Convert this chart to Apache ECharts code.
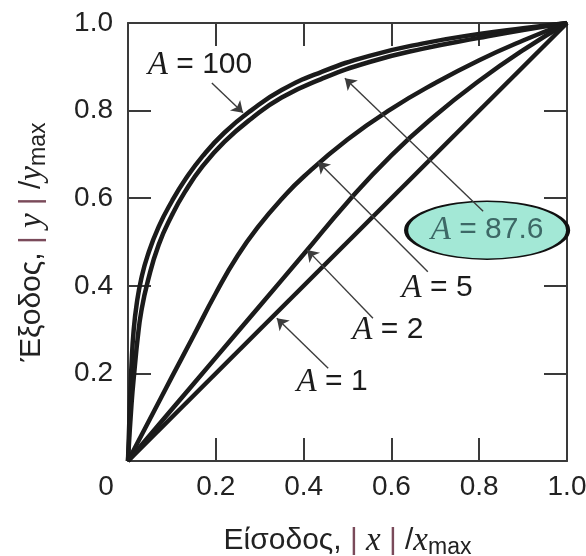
<!DOCTYPE html>
<html>
<head>
<meta charset="utf-8">
<script src="https://cdn.jsdelivr.net/npm/echarts@6/dist/echarts.min.js"></script>
<style>
  html, body { margin: 0; padding: 0; background: #fff; }
  #chart { width: 586px; height: 556px; }
</style>
</head>
<body>
<div id="chart"></div>
<script>
// values: x = |x|/xmax, y = |y|/ymax
const a100X = [0, 0.004, 0.008, 0.013, 0.02, 0.03, 0.045, 0.07, 0.1, 0.13, 0.17, 0.22, 0.28, 0.35, 0.44, 0.55, 0.67, 0.8, 0.9, 1];
const a100Y = [0, 0.12, 0.22, 0.3, 0.36, 0.415, 0.47, 0.535, 0.593, 0.642, 0.696, 0.75, 0.8, 0.847, 0.888, 0.925, 0.953, 0.975, 0.988, 1];

const a876X = [0, 0.008, 0.015, 0.022, 0.03, 0.045, 0.07, 0.1, 0.13, 0.17, 0.22, 0.28, 0.35, 0.44, 0.55, 0.67, 0.8, 0.9, 1];
const a876Y = [0, 0.13, 0.21, 0.28, 0.34, 0.41, 0.494, 0.561, 0.615, 0.673, 0.729, 0.781, 0.83, 0.872, 0.911, 0.941, 0.966, 0.984, 1];

const a5X = [0, 0.05, 0.1, 0.15, 0.2, 0.25, 0.3, 0.35, 0.4, 0.5, 0.6, 0.7, 0.8, 0.9, 1];
const a5Y = [0, 0.096, 0.192, 0.287, 0.383, 0.469, 0.539, 0.598, 0.649, 0.734, 0.804, 0.863, 0.915, 0.96, 1];

const a2X = [0, 0.1, 0.2, 0.3, 0.4, 0.5, 0.6, 0.7, 0.8, 0.9, 1];
const a2Y = [0, 0.118, 0.236, 0.354, 0.472, 0.591, 0.698, 0.789, 0.868, 0.938, 1];

const a1X = [0, 1];
const a1Y = [0, 1];

const pairs = (xs, ys) => xs.map((x, i) => [x, ys[i]]);

const sans = "Liberation Sans", serif = "Liberation Serif";
const ink = "#1b1b1b", frame = "#3a3a3a";

const curve = (name, data) => ({
  name,
  type: "line",
  data,
  showSymbol: false,
  smooth: 0.5,
  lineStyle: { color: ink, width: 4.5 },
  z: 3
});

// A = ... labels
const lblRich = {
  a: { fontFamily: serif, fontStyle: "italic", fontSize: 33, color: ink },
  e: { fontFamily: sans, fontSize: 30, color: ink }
};
const lbl = (num, coord) => ({
  coord,
  symbol: "rect",
  symbolSize: [10, 10],
  itemStyle: { color: "rgba(0,0,0,0)" },
  label: { show: true, position: "inside", formatter: `{a|A}{e| = ${num}}`, rich: lblRich }
});

const arrow = (from, to, color, width) => [
  { coord: from, lineStyle: { color: color || "#3c3c3c", width: width || 1.4, type: "solid" } },
  { coord: to }
];

const axisBase = {
  type: "value",
  min: 0,
  max: 1,
  interval: 0.2,
  axisLine: { show: true, onZero: false, lineStyle: { color: frame, width: 2 } },
  axisTick: { show: true, inside: true, length: 23, lineStyle: { color: frame, width: 2 } },
  splitLine: { show: false }
};

const nameRich = {
  t: { fontFamily: sans, fontSize: 30, color: "#222", lineHeight: 36 },
  b: { fontFamily: sans, fontSize: 30, color: "#7a4a5a", lineHeight: 36 },
  i: { fontFamily: serif, fontStyle: "italic", fontSize: 33, color: "#222", lineHeight: 36 },
  s: { fontFamily: sans, fontSize: 23, color: "#222", lineHeight: 36, verticalAlign: "bottom" }
};

const option = {
  backgroundColor: "#fff",
  animation: false,
  grid: { left: 128, top: 23, width: 439, height: 438, outerBoundsMode: "none", containLabel: false },
  xAxis: [
    Object.assign({}, axisBase, {
      position: "bottom",
      name: "{t|Είσοδος, }{b||}{i| x }{b||}{t| /}{i|x}{s|max}",
      nameLocation: "middle",
      nameGap: 62,
      nameTextStyle: { rich: nameRich },
      axisLabel: {
        show: true,
        margin: 12,
        fontFamily: sans,
        fontSize: 28,
        color: "#222",
        showMinLabel: true,
        showMaxLabel: true,
        formatter: (v) => (v === 0 ? "{z|0}" : v.toFixed(1)),
        rich: { z: { fontFamily: sans, fontSize: 28, color: "#222", padding: [0, 44, 0, 0] } }
      }
    }),
    Object.assign({}, axisBase, { position: "top", axisLabel: { show: false } })
  ],
  yAxis: [
    Object.assign({}, axisBase, {
      position: "left",
      name: "{t|Έξοδος, }{b||}{i| y }{b||}{t| /}{i|y}{s|max}",
      nameLocation: "middle",
      nameGap: 78,
      nameTextStyle: { rich: nameRich },
      axisLabel: {
        show: true,
        margin: 15,
        fontFamily: sans,
        fontSize: 28,
        color: "#222",
        formatter: (v) => (v === 0 ? "" : v.toFixed(1))
      }
    }),
    Object.assign({}, axisBase, { position: "right", axisLabel: { show: false } })
  ],
  series: [
    curve("A = 100", pairs(a100X, a100Y)),
    curve("A = 87.6", pairs(a876X, a876Y)),
    curve("A = 5", pairs(a5X, a5Y)),
    curve("A = 2", pairs(a2X, a2Y)),
    Object.assign(curve("A = 1", pairs(a1X, a1Y)), {
      markLine: {
        silent: true,
        symbol: ["none", "arrow"],
        symbolSize: 11,
        label: { show: false },
        z: 6,
        data: [
          arrow([0.191, 0.863], [0.262, 0.795]),
          arrow([0.809, 0.57], [0.494, 0.874]),
          arrow([0.683, 0.432], [0.433, 0.683]),
          arrow([0.558, 0.326], [0.408, 0.482]),
          arrow([0.456, 0.212], [0.339, 0.326]),
          arrow([1.05, 0.36], [0.932, 0.466], "#159a77", 2)
        ]
      },
      markPoint: {
        silent: true,
        z: 5,
        data: [
          lbl("100", [0.164, 0.904]),
          {
            coord: [0.818, 0.527],
            symbol: "circle",
            symbolSize: [162, 58],
            itemStyle: { color: "#a3e8d6", borderColor: "#111", borderWidth: 2.5 },
            label: {
              show: true,
              position: "inside",
              formatter: "{a|A}{e| = 87.6}",
              rich: {
                a: { fontFamily: serif, fontStyle: "italic", fontSize: 33, color: "#3d6866" },
                e: { fontFamily: sans, fontSize: 30, color: "#3d6866" }
              }
            }
          },
          lbl("5", [0.704, 0.395]),
          lbl("2", [0.592, 0.299]),
          lbl("1", [0.465, 0.18])
        ]
      }
    })
  ]
};

const chart = echarts.init(document.getElementById("chart"));
chart.setOption(option);
</script>
</body>
</html>
